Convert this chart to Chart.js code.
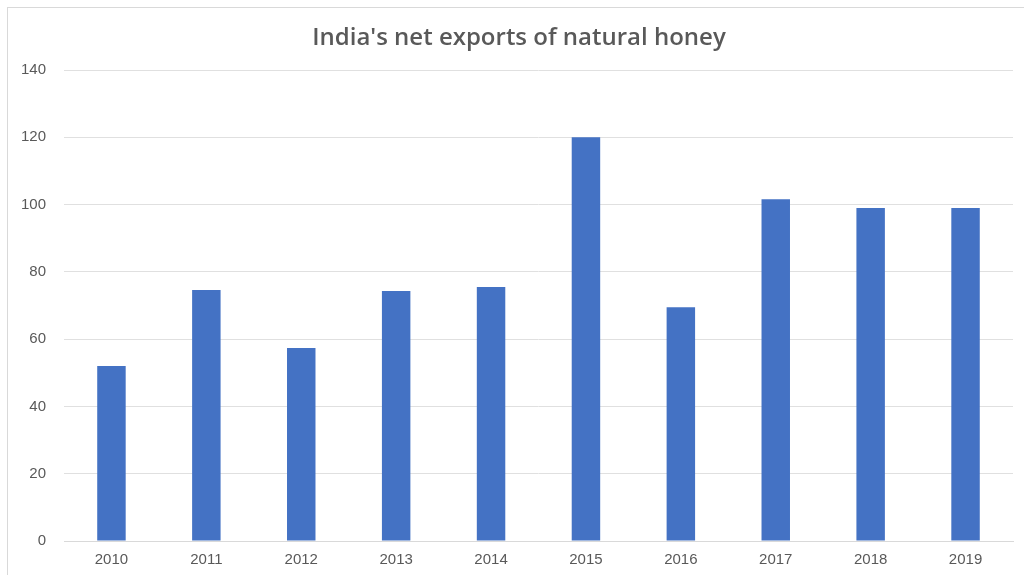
<!DOCTYPE html>
<html>
<head>
<meta charset="utf-8">
<script src="https://cdn.jsdelivr.net/npm/chart.js@4/dist/chart.umd.min.js"></script>
<style>
html,body{margin:0;padding:0;background:#fff;width:1024px;height:575px;overflow:hidden;}
#frame{position:absolute;left:7px;top:7px;width:1030px;height:600px;border-left:1px solid #d9d9d9;border-top:1px solid #d9d9d9;box-sizing:border-box;}
#wrap{position:absolute;left:0;top:0;width:1024px;height:575px;}
</style>
</head>
<body>
<div id="frame"></div>
<div id="wrap"><canvas id="c" width="1024" height="575"></canvas></div>
<script>
const categories = ['2010','2011','2012','2013','2014','2015','2016','2017','2018','2019'];
const netExports = [52, 74.6, 57.4, 74.3, 75.5, 120, 69.5, 101.6, 99, 99];
const chartTitle = "India's net exports of natural honey";
const yMin = 0, yMax = 140, yStep = 20;

const titlePlugin = {
  id: 'customTitle',
  afterDraw(chart) {
    const ctx = chart.ctx;
    ctx.save();
    ctx.font = '600 24px "Open Sans"';
    ctx.fillStyle = '#595959';
    ctx.textAlign = 'center';
    ctx.textBaseline = 'middle';
    ctx.fillText(chartTitle, 519, 38);
    ctx.restore();
  }
};

new Chart(document.getElementById('c'), {
  type: 'bar',
  data: {
    labels: categories,
    datasets: [{
      data: netExports,
      backgroundColor: '#4472C4',
      borderWidth: 0,
      categoryPercentage: 1.0,
      barPercentage: 0.30
    }]
  },
  options: {
    responsive: false,
    animation: false,
    layout: { padding: { left: 0, right: 11, top: 70, bottom: 6 } },
    plugins: {
      legend: { display: false },
      tooltip: { enabled: false },
      title: { display: false }
    },
    scales: {
      x: {
        grid: { display: false, drawTicks: false },
        border: { display: true, color: '#d9d9d9', width: 1 },
        ticks: { color: '#595959', font: { family: 'Liberation Sans', size: 15 }, padding: 10, maxRotation: 0 },
        afterFit: (s) => { s.height = 28; }
      },
      y: {
        min: yMin, max: yMax,
        grid: { color: '#e0e0e0', lineWidth: 1, drawTicks: false },
        border: { display: false },
        ticks: { stepSize: yStep, color: '#595959', font: { family: 'Liberation Sans', size: 15 }, padding: 18 },
        afterFit: (s) => { s.width = 64; }
      }
    }
  },
  plugins: [titlePlugin]
});
</script>
</body>
</html>
